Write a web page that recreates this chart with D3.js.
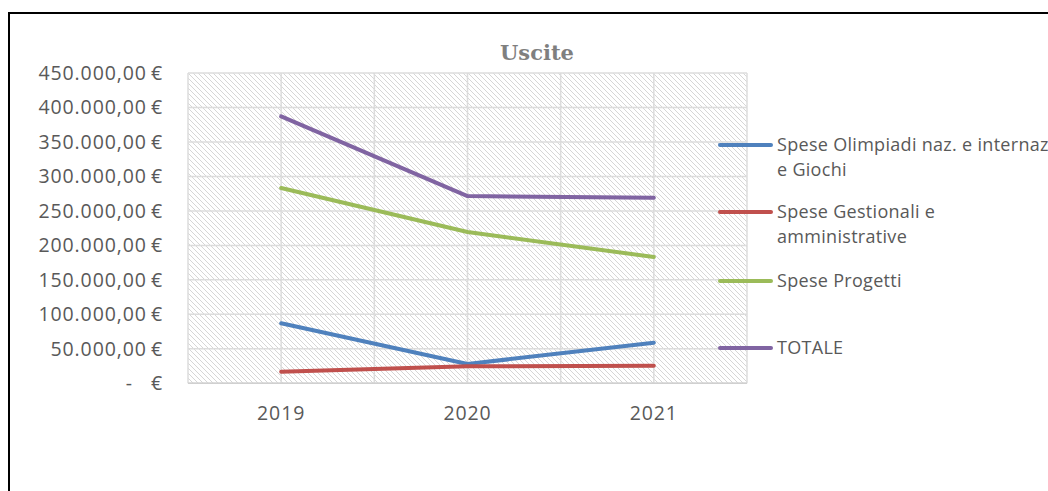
<!DOCTYPE html>
<html><head><meta charset="utf-8">
<script src="https://cdn.jsdelivr.net/npm/d3@7"></script>
<style>body{margin:0;background:#fff}svg{display:block}</style>
</head><body>
<svg id="c" width="1048" height="491"></svg>
<script>
const categories = ["2019", "2020", "2021"];
const seriesNames = ["Spese Olimpiadi naz. e internaz e Giochi", "Spese Gestionali e amministrative", "Spese Progetti", "TOTALE"];
const olimpiadi = [87000, 28000, 58900];
const gestionali = [16800, 24600, 25500];
const progetti = [283200, 219400, 183200];
const totale = [387000, 271500, 269000];
const yTicks = [0, 50000, 100000, 150000, 200000, 250000, 300000, 350000, 400000, 450000];
const colors = ["#4F81BD", "#C0504D", "#9BBB59", "#8064A2"];
const legendLines = [["Spese Olimpiadi naz. e internaz", "e Giochi"], ["Spese Gestionali e", "amministrative"], ["Spese Progetti"], ["TOTALE"]];

const series = [olimpiadi, gestionali, progetti, totale];
const svg = d3.select("#c");

// outer frame
svg.append("rect").attr("x", 9).attr("y", 13).attr("width", 1100).attr("height", 600)
  .attr("fill", "#fff").attr("stroke", "#000").attr("stroke-width", 2);

const L = 188, R = 747, T = 73, B = 383.3;
const x = d3.scalePoint().domain(categories).range([L, R]).padding(0.5);
const band = (R - L) / categories.length;
const y = d3.scaleLinear().domain([0, 450000]).range([B, T]);

// hatch pattern
const defs = svg.append("defs");
const pat = defs.append("pattern").attr("id", "hatch").attr("patternUnits", "userSpaceOnUse")
  .attr("width", 5).attr("height", 5);
pat.append("rect").attr("width", 5).attr("height", 5).attr("fill", "#fff");
pat.append("path").attr("d", "M-1,-1 L6,6 M-1,4 L1,6 M4,-1 L6,1").attr("stroke", "#d6d6d6").attr("stroke-width", 1);
svg.append("rect").attr("x", L).attr("y", T).attr("width", R - L).attr("height", B - T).attr("fill", "url(#hatch)");

// horizontal gridlines
svg.append("g").selectAll("line").data(yTicks).join("line")
  .attr("x1", L).attr("x2", R).attr("y1", d => y(d)).attr("y2", d => y(d))
  .attr("stroke", "#dcdcdc").attr("stroke-width", 1.5);
// vertical gridlines (category edges and centers)
const vx = [];
for (let i = 0; i <= categories.length * 2; i++) vx.push(L + i * band / 2);
svg.append("g").selectAll("line").data(vx).join("line")
  .attr("x1", d => d).attr("x2", d => d).attr("y1", T).attr("y2", B)
  .attr("stroke", "#dcdcdc").attr("stroke-width", 1.5);
// baseline
svg.append("line").attr("x1", L).attr("x2", R).attr("y1", B).attr("y2", B).attr("stroke", "#d0d0d0").attr("stroke-width", 1.5);

const font = "'Open Sans', 'Noto Sans', sans-serif";
// y labels
const fmt = v => d3.format(",.2f")(v).replace(/,/g, "#").replace(/\./g, ",").replace(/#/g, ".");
const yl = svg.append("g").attr("font-family", font).attr("font-size", 19.5)
  .attr("letter-spacing", 0.9).attr("fill", "#595959");
yTicks.forEach(v => {
  if (v === 0) {
    yl.append("text").attr("x", 163).attr("y", y(v)).attr("dy", "0.35em").attr("text-anchor", "end").text("€");
    yl.append("text").attr("x", 133).attr("y", y(v)).attr("dy", "0.35em").attr("text-anchor", "end").text("-");
  } else {
    yl.append("text").attr("x", 163).attr("y", y(v)).attr("dy", "0.35em").attr("text-anchor", "end").text(fmt(v) + "\u2009€");
  }
});
// x labels
svg.append("g").selectAll("text").data(categories).join("text")
  .attr("x", d => x(d)).attr("y", 413).attr("dy", "0.35em").attr("text-anchor", "middle")
  .attr("font-family", font).attr("font-size", 19.5).attr("letter-spacing", 0.9)
  .attr("fill", "#595959").text(d => d);

// title
svg.append("text").attr("x", 537).attr("y", 53).attr("dy", "0.35em").attr("text-anchor", "middle")
  .attr("font-family", "'DejaVu Serif', 'Liberation Serif', serif").attr("font-weight", "bold")
  .attr("font-size", 21).attr("fill", "#7f7f7f").text("Uscite");

// lines
const line = d3.line().x((d, i) => x(categories[i])).y(d => y(d));
series.forEach((s, k) => {
  svg.append("path").datum(s).attr("d", line).attr("fill", "none")
    .attr("stroke", colors[k]).attr("stroke-width", 4).attr("stroke-linecap", "round").attr("stroke-linejoin", "round");
});

// legend
const legY = [145, 212, 281, 348];
const lg = svg.append("g").attr("font-family", font).attr("font-size", 18).attr("letter-spacing", 0.3).attr("fill", "#595959");
seriesNames.forEach((n, k) => {
  lg.append("line").attr("x1", 720).attr("x2", 771).attr("y1", legY[k]).attr("y2", legY[k])
    .attr("stroke", colors[k]).attr("stroke-width", 4).attr("stroke-linecap", "round");
  legendLines[k].forEach((t, j) => {
    lg.append("text").attr("x", 777).attr("y", legY[k] + j * 25).attr("dy", "0.35em").text(t);
  });
});
</script>
</body></html>
